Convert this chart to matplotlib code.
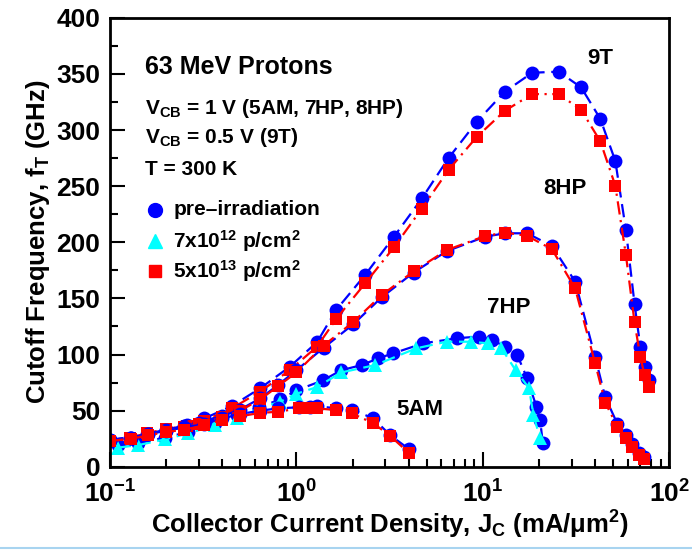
import numpy as np
from matplotlib import pyplot as plt
from matplotlib.lines import Line2D
from matplotlib.ticker import MultipleLocator, LogLocator, NullFormatter

plt.rcParams['font.family'] = ['Liberation Sans', 'DejaVu Sans']
plt.rcParams['font.weight'] = 'bold'
plt.rcParams['mathtext.fontset'] = 'custom'
plt.rcParams['mathtext.rm'] = 'Liberation Sans:bold'
plt.rcParams['mathtext.it'] = 'Liberation Sans:bold'
plt.rcParams['mathtext.bf'] = 'Liberation Sans:bold'
plt.rcParams['mathtext.default'] = 'bf'

## 9T
x_9t = [0.1, 0.128, 0.158, 0.2, 0.26, 0.32, 0.45, 0.64, 0.92, 1.29, 1.64, 2.34,
        3.34, 4.71, 6.55, 9.3, 13.1, 18.4, 25.5, 33.7, 42.7, 51.4, 58.6, 65.2,
        70.0, 73.8, 77.5]
pre_9t = [24, 26, 29, 33, 37, 43, 54, 70, 89, 111, 140, 171, 205, 239, 275,
          307.5, 334, 351, 352, 338, 310, 272.5, 211, 145, 107, 89, 77]
irr_9t = [23, 26, 29.7, 34, 36, 41, 52, 67, 86, 107, 132, 163.5, 195.6, 230,
          264.5, 294, 317, 332, 332, 318, 290, 250.5, 188.7, 128.7, 98, 81.7, 71.3]

## 8HP
x_8hp = [0.1, 0.13, 0.16, 0.2, 0.25, 0.3, 0.4, 0.5, 0.64, 0.8, 1.0, 1.4, 2.02,
         2.87, 4.25, 6.4, 10.3, 13.2, 17.3, 23.5, 31.3, 40.1, 45.4, 52.8, 58.9,
         63.1, 68.5, 72.9]
pre_8hp = [24, 26, 29, 33, 36, 39, 45, 51, 61, 73, 86, 106, 127, 151, 173, 192,
           205, 208, 208, 196.7, 165, 97.5, 62, 38, 28, 20, 12.5, 9]
irr_8hp = [23, 25, 28, 32, 35, 38, 44, 50, 60, 72, 84, 108, 129, 153, 174, 193,
           205.6, 208.6, 205.7, 193.8, 159, 92, 57, 35.7, 25.9, 17.8, 10.4, 6.6]

## 7HP
x_7hp_pre = [0.11, 0.142, 0.197, 0.263, 0.366, 0.479, 0.63, 0.82, 1.0, 1.39,
             1.74, 2.24, 2.75, 3.3, 4.8, 7.3, 9.5, 11.2, 13.2, 15.3, 17.3, 19.4,
             20.3, 21.0]
pre_7hp = [19, 21, 26, 31, 39, 46, 53, 60, 68, 77, 86, 90.6, 96.6, 101, 110,
           114.5, 116, 113, 107, 99.6, 78.8, 53.5, 41.6, 21]
x_7hp_irr = [0.11, 0.142, 0.197, 0.263, 0.366, 0.479, 0.63, 0.82, 1.0, 1.29,
             1.74, 2.65, 4.4, 6.4, 8.6, 10.6, 12.6, 15.0, 17.7, 18.7, 20.3]
irr_7hp = [17, 19.3, 24.4, 29.7, 37, 43, 52, 58, 65, 71, 84, 90.6, 105.5,
           111.4, 111.4, 110, 105.5, 86, 70, 46, 25.3]

## 5AM
x_5am = [0.1, 0.13, 0.16, 0.2, 0.25, 0.32, 0.4, 0.5, 0.64, 0.8, 1.03, 1.19,
         1.29, 1.64, 1.98, 2.59, 3.19, 4.0]
pre_5am = [24, 26, 29, 32, 35, 38, 43, 47, 50, 52, 53, 53, 54, 52, 51, 43, 28, 16]
irr_5am = [23, 25, 28, 31, 33, 37, 42, 45, 48, 49, 52, 52, 52, 50.5, 47.6,
           38.7, 27.4, 12.5]

legend_labels = ['pre\u2013irradiation', r'7x10$^{12}$ p/cm$^2$',
                 r'5x10$^{13}$ p/cm$^2$']

fig = plt.figure(figsize=(6.92, 5.55), dpi=100)
ax = fig.add_axes([0.159, 0.159, 0.808, 0.809])

blue = dict(color='#0000ff', marker='o', ms=10, ls=(0, (6, 3)), lw=1.6,
            markeredgewidth=0)
red = dict(color='#ff0000', marker='s', ms=9, ls=(0, (6, 2.5, 1, 2.5)), lw=1.6,
           markeredgewidth=0)
cyan = dict(color='#00ffff', marker='^', ms=10, ls=(0, (6, 3)), lw=1.6,
            markeredgewidth=0)

ax.plot(x_7hp_pre, pre_7hp, **blue)
ax.plot(x_7hp_irr, irr_7hp, **cyan)
for xx, yb, yr in [(x_9t, pre_9t, irr_9t), (x_8hp, pre_8hp, irr_8hp),
                   (x_5am, pre_5am, irr_5am)]:
    ax.plot(xx, yb, **blue)
    ax.plot(xx, yr, **red)

ax.set_xscale('log')
ax.set_xlim(0.1, 100)
ax.set_ylim(0, 400)
ax.yaxis.set_major_locator(MultipleLocator(50))
ax.yaxis.set_minor_locator(MultipleLocator(25))
ax.xaxis.set_major_locator(LogLocator(base=10, numticks=10))
ax.xaxis.set_minor_locator(LogLocator(base=10, subs=np.arange(2, 10), numticks=20))
ax.xaxis.set_minor_formatter(NullFormatter())
ax.tick_params(which='both', direction='in', top=False, right=False, width=1.5,
               labelsize=19)
ax.tick_params(axis='x', pad=10)
ax.tick_params(axis='y', pad=7)
ax.tick_params(which='major', length=11)
ax.tick_params(which='minor', length=6)
for s in ax.spines.values():
    s.set_linewidth(2)

ax.set_xlabel(r'Collector Current Density, J$_C$ (mA/$\mu$m$^2$)', fontsize=18.5,
              fontweight='bold', labelpad=1)
ax.set_ylabel(r'Cutoff Frequency, f$_T$ (GHz)', fontsize=18.5, fontweight='bold',
              labelpad=3)

ax.text(0.063, 0.891, '63 MeV Protons', transform=ax.transAxes, fontsize=18,
        va='center')
ax.text(0.063, 0.799, r'V$_{CB}$ = 1 V (5AM, 7HP, 8HP)', transform=ax.transAxes,
        fontsize=15, va='center')
ax.text(0.063, 0.734, r'V$_{CB}$ = 0.5 V (9T)', transform=ax.transAxes,
        fontsize=15, va='center')
ax.text(0.063, 0.663, 'T = 300 K', transform=ax.transAxes, fontsize=15,
        va='center')

# legend keys
key_y = [0.572, 0.503, 0.436]
key_style = [('#0000ff', 'o', 10), ('#00ffff', '^', 10), ('#ff0000', 's', 9)]
for ky, (c, m, s), lab in zip(key_y, key_style, legend_labels):
    ax.plot([0.080], [ky], color=c, marker=m, ms=s, ls='none',
            transform=ax.transAxes, clip_on=False)
    ax.text(0.113, ky, lab, transform=ax.transAxes, fontsize=15, va='center')

ax.text(42.7, 364, '9T', fontsize=16, ha='center', va='center')
ax.text(27.7, 247.5, '8HP', fontsize=16, ha='center', va='center')
ax.text(13.7, 142, '7HP', fontsize=16, ha='center', va='center')
ax.text(4.61, 51.4, '5AM', fontsize=16, ha='center', va='center')

fig.add_artist(Line2D([0, 1], [0.013, 0.013], color='#a8d4f0', lw=1.5,
                      transform=fig.transFigure))

plt.savefig('out.png', dpi=100)
